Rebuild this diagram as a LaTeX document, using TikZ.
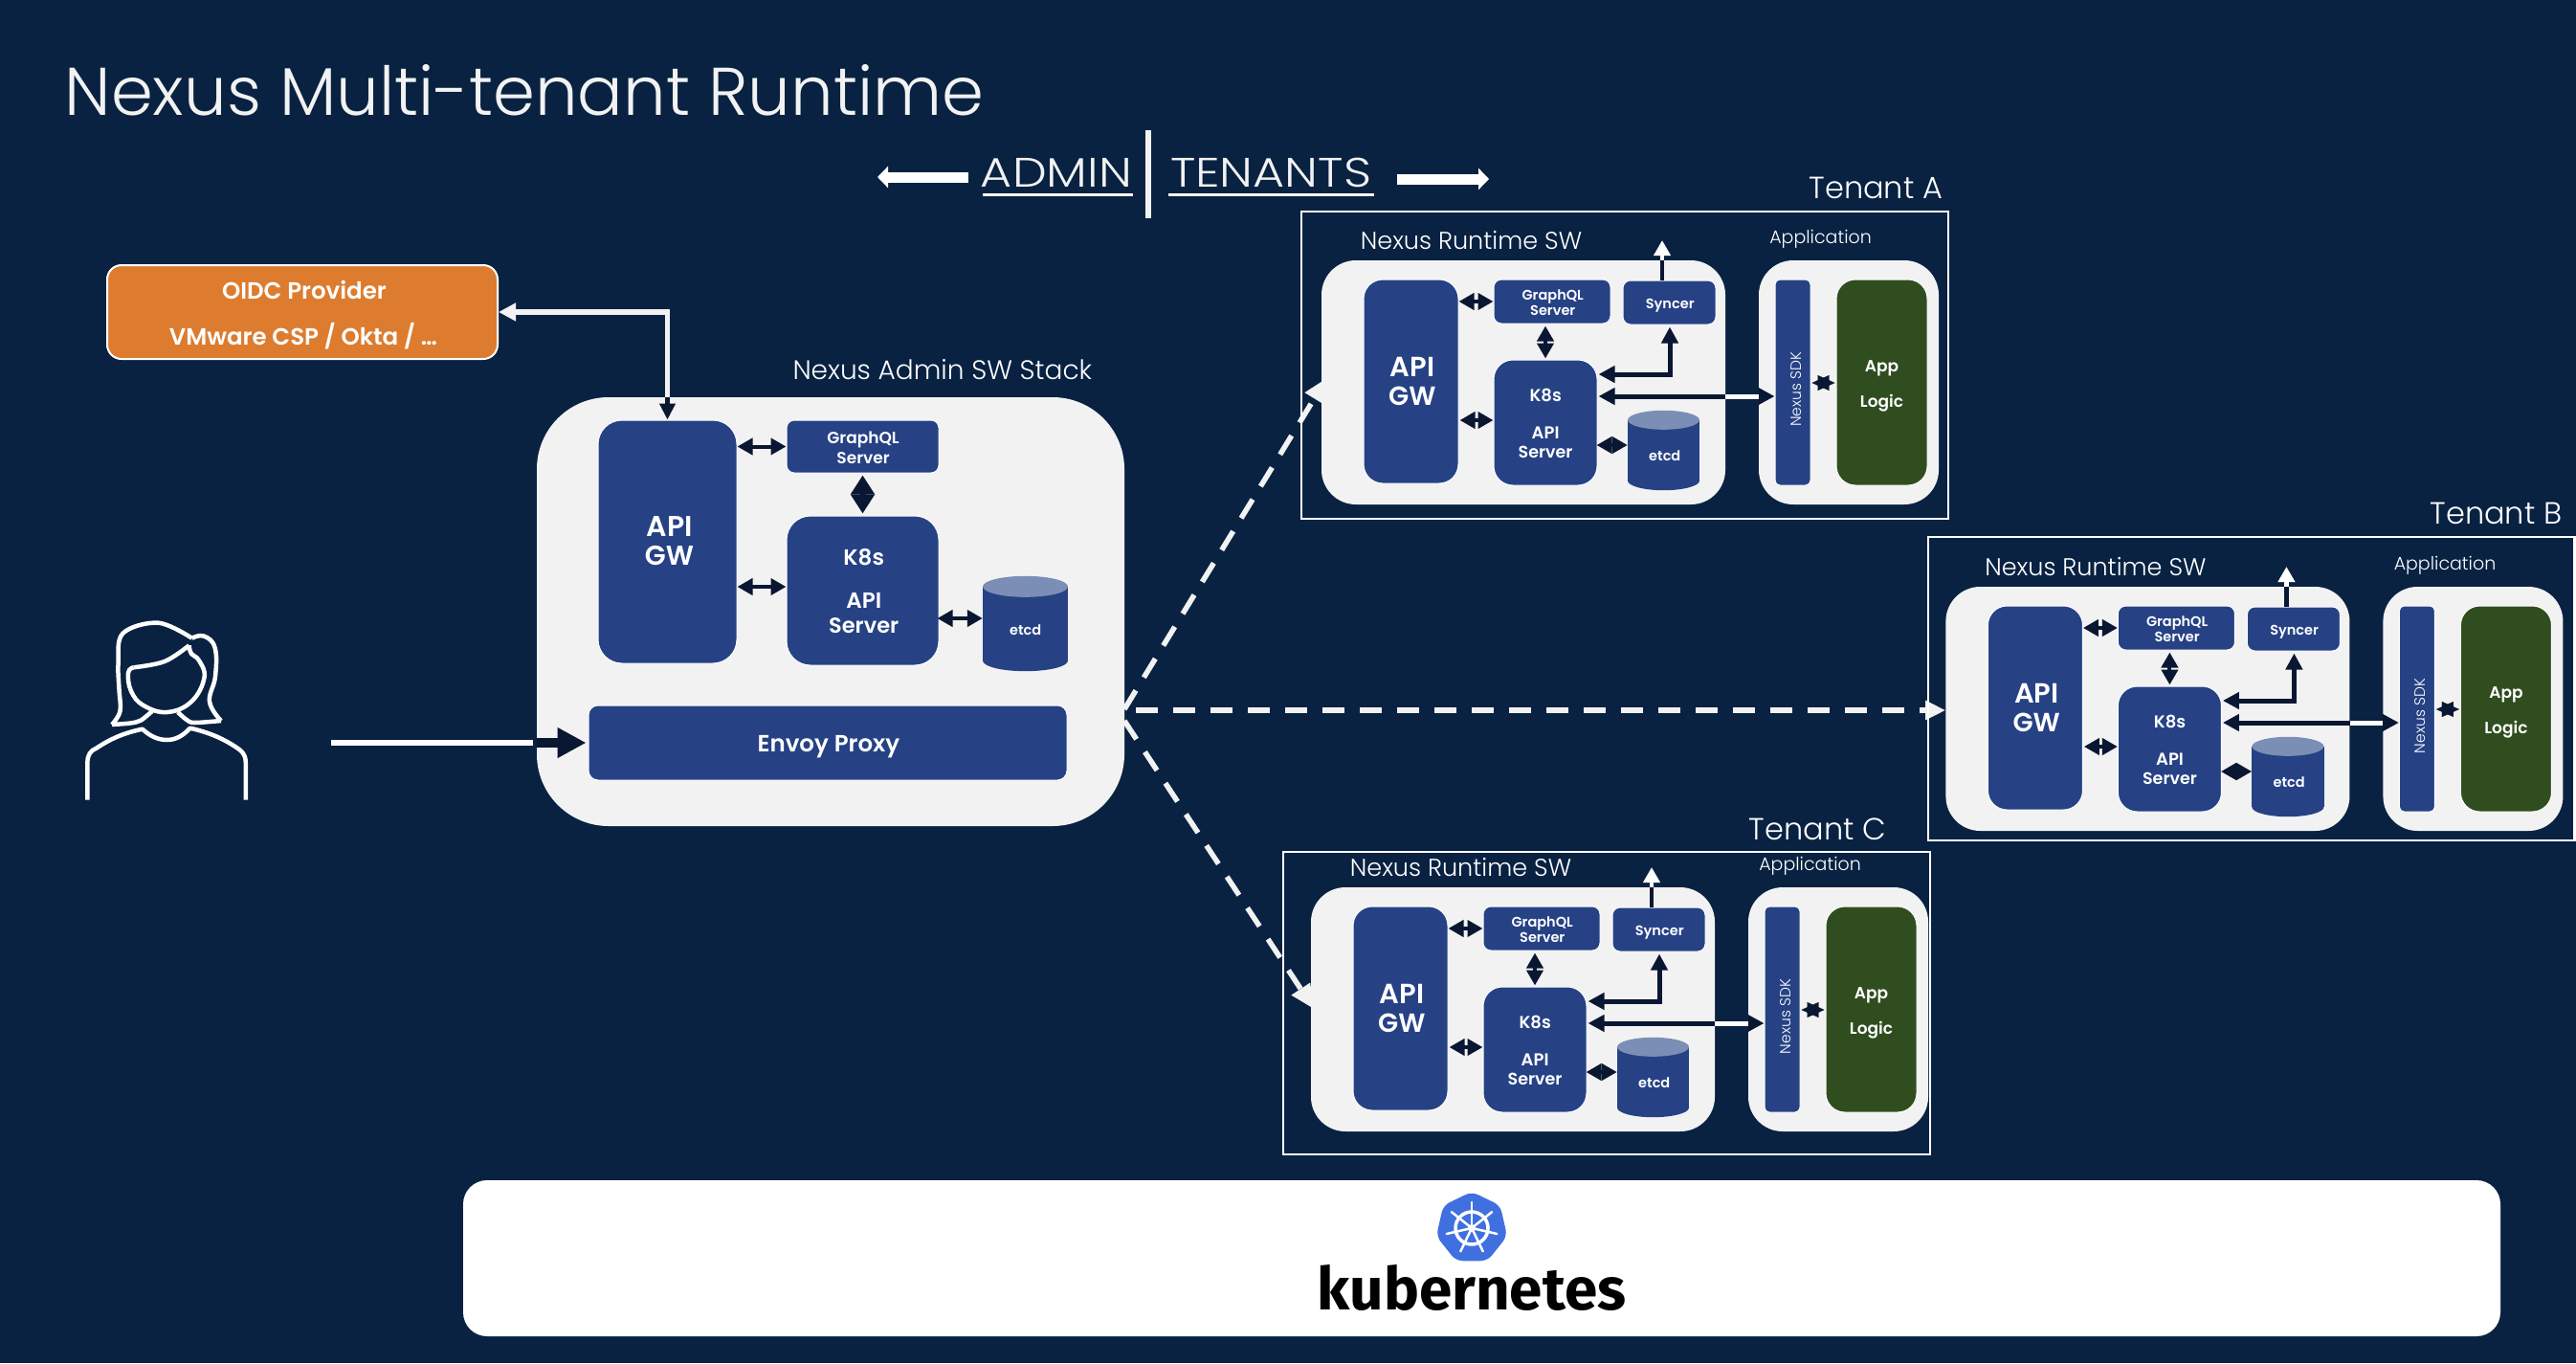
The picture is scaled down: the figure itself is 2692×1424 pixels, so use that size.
\documentclass[tikz,border=0pt]{standalone}
\usepackage{fontspec}
\setmainfont{Poppins}
\newfontfamily\fl{Poppins Light}
\newfontfamily\fm{Poppins SemiBold}
\newfontfamily\fr{Poppins Medium}
\newfontfamily\fb{Fira Sans Bold}
\usetikzlibrary{arrows.meta,calc}
\definecolor{bgc}{HTML}{092242}
\definecolor{boxc}{HTML}{264285}
\definecolor{grayc}{HTML}{F2F2F2}
\definecolor{darkc}{HTML}{0A1733}
\definecolor{orangec}{HTML}{DD7C2F}
\definecolor{greenc}{HTML}{304D20}
\definecolor{topc}{HTML}{7B8EB5}
\definecolor{logoc}{HTML}{4070E0}
\pgfdeclarelayer{bglayer}
\pgfdeclarelayer{connlayer}
\pgfsetlayers{bglayer,connlayer,main}
\newcommand{\ft}[1]{\fontsize{#1}{#1}\selectfont}
\tikzset{
  txt/.style={text=white,inner sep=0pt,anchor=base,align=center},
  solidbox/.style={draw=white,line width=1pt,fill=boxc,inner sep=0pt},
  panel/.style={fill=grayc,inner sep=0pt},
  tenantframe/.style={draw=white,line width=2.5pt},
  link/.style={draw=darkc,line width=4pt,arrows={Triangle[length=16pt,width=17pt]-Triangle[length=16pt,width=17pt]}},
  linkb/.style={draw=darkc,line width=5pt,arrows={Triangle[length=17pt,width=17pt]-Triangle[length=17pt,width=17pt]}},
  starhead/.style={draw=none,arrows={-Triangle[length=18pt,width=16pt]},fill=darkc,draw=darkc,line width=0.1pt},
  dashlink/.style={draw=grayc,line width=5.5pt,dash pattern=on 23pt off 16pt,arrows={-Triangle[length=25pt,width=22pt]}},
  person/.style={draw=white,line width=4.5pt,line join=round,line cap=butt},
}
% box: name, x1,y1,x2,y2, radius, style
\newcommand{\bx}[7]{\node[#7,rounded corners=#6pt,minimum width={(#4-#2)*1pt},minimum height={(#5-#3)*1pt}] (#1) at ({(#2+#4)/2},{(#3+#5)/2}) {};}
% text: name, x, baseline, size, font, text
\newcommand{\tx}[6]{\node[txt] (#1) at (#2,#3) {\ft{#4}#5 #6};}
% cylinder: name, x1,y1,x2,y2, ry
\newcommand{\cyl}[6]{%
  \node[inner sep=0pt,minimum width={(#4-#2)*1pt},minimum height={(#5-#3)*1pt}] (#1) at ({(#2+#4)/2},{(#3+#5)/2}) {};
  \fill[boxc] ([yshift=-#6pt]#1.north west) rectangle ([yshift=#6pt]#1.south east);
  \fill[boxc] ([yshift=#6pt]#1.south) ellipse [x radius={(#4-#2)/2*1pt},y radius=#6pt];
  \fill[topc] ([yshift=-#6pt]#1.north) ellipse [x radius={(#4-#2)/2*1pt},y radius=#6pt];
}
% tenant: name, dx, dy  (geometry given in Tenant A's frame)
\newcommand{\tenant}[3]{%
\begin{scope}[shift={(#2,#3)}]
  \bx{#1-rt}{1381}{272}{1803}{527}{36}{panel}
  \bx{#1-ap}{1838}{272}{2026}{527}{36}{panel}
  \bx{#1-api}{1425}{292}{1524}{505}{20}{solidbox}
  \bx{#1-gql}{1561}{292}{1683}{338}{8}{solidbox}
  \bx{#1-syn}{1696}{293}{1793}{339}{8}{solidbox}
  \bx{#1-k8s}{1561}{376}{1669}{507}{20}{solidbox}
  \bx{#1-sdk}{1855}{292}{1892}{507}{5}{solidbox}
  \bx{#1-app}{1919}{292}{2014}{507}{20}{solidbox,fill=greenc}
  \cyl{#1-etcd}{1701}{429}{1776}{512}{10}
  \tx{#1-t1}{1534}{260.7}{25.5}{\fl}{Nexus Runtime SW}
  \tx{#1-t2}{1900}{254}{19}{\fl}{Application}
  \tx{#1-t3}{1472.5}{393}{29}{\fm}{API}
  \tx{#1-t4}{1472.5}{423}{27.5}{\fm}{GW}
  \tx{#1-t5}{1621}{313}{14.5}{\fm}{GraphQL}
  \tx{#1-t6}{1621}{329}{14.5}{\fm}{Server}
  \tx{#1-t7}{1743.5}{322.7}{14.5}{\fm}{Syncer}
  \tx{#1-t8}{1613}{419}{18}{\fm}{K8s}
  \tx{#1-t9}{1613}{458}{18}{\fm}{API}
  \tx{#1-t10}{1613}{478}{17.5}{\fm}{Server}
  \tx{#1-t11}{1738}{481.7}{14.5}{\fm}{etcd}
  \tx{#1-t12}{1964.5}{388}{17}{\fm}{App}
  \tx{#1-t13}{1964.5}{425}{17}{\fm}{Logic}
  \node[txt,rotate=90] (#1-t14) at (1882,407) {\ft{15.5}\fl Nexus SDK};
  \coordinate (#1-bus) at (0,414);
  \coordinate (#1-corner) at (1745,391);
  \coordinate (#1-out) at (1737,251);
  \coordinate (#1-apibus) at (0,315);
  \coordinate (#1-k8sbus) at (0,439);
  \coordinate (#1-etcdbus) at (0,465);
  \coordinate (#1-sdkbus) at (0,400);
  \draw[link] (#1-api.east |- #1-apibus) -- (#1-gql.west |- #1-apibus);
  \draw[link] ([xshift=1pt]#1-api.east |- #1-k8sbus) -- (#1-k8s.west |- #1-k8sbus);
  \draw[link] ([xshift=-1pt]#1-k8s.east |- #1-etcdbus) -- (#1-etcd.west |- #1-etcdbus);
  \draw[link] ([yshift=-2pt]#1-k8s.north |- #1-gql.south) -- ([yshift=1pt]#1-k8s.north);
  \draw[linkb,rounded corners=0pt] ([xshift=1pt]#1-k8s.east |- #1-corner) -- (#1-corner) -- ([yshift=-2pt]#1-corner |- #1-syn.south);
  \draw[linkb] ([xshift=1pt]#1-k8s.east |- #1-bus) -- (#1-sdk.west |- #1-bus);
  \draw[draw=white,line width=5pt] (#1-rt.east |- #1-bus) -- (#1-ap.west |- #1-bus);
  \draw[draw=white,line width=4.5pt,arrows={-Triangle[length=16pt,width=17pt]}] (#1-out |- #1-syn.north) -- (#1-out);
  \draw[draw=darkc,line width=4.5pt] (#1-out |- #1-syn.north) -- (#1-out |- #1-rt.north);
  \draw[starhead] ([xshift=19pt]#1-sdk.east |- #1-sdkbus) -- ([xshift=1pt]#1-sdk.east |- #1-sdkbus);
  \draw[starhead] ([xshift=-19pt]#1-app.west |- #1-sdkbus) -- ([xshift=-1pt]#1-app.west |- #1-sdkbus);
\end{scope}}
\begin{document}
\begin{tikzpicture}[x=1pt,y=-1pt]
\useasboundingbox (0,0) rectangle (2692,1424);
\begin{pgfonlayer}{bglayer}
  \fill[bgc] (0,0) rectangle (2692,1424);
\end{pgfonlayer}

\node[txt,text=grayc] (title) at (548,120) {\ft{70.5}\fl Nexus Multi-tenant Runtime};

% Admin / tenants header
\node[txt,text=grayc] (admin) at (1104,195) {\scalebox{1.18}[1]{\ft{43}\fl ADMIN}};
\node[txt,text=grayc] (tenants) at (1328,195) {\scalebox{1.18}[1]{\ft{43}\fl TENANTS}};
\draw[white,line width=3pt] (1027,203) -- (1184,203);
\draw[white,line width=3pt] (1221,203) -- (1436,203);
\fill[grayc] (1197,136) rectangle (1203,228);
\coordinate (al) at (917,185);
\coordinate (ar) at (1556,187);
\draw[white,line width=11pt,arrows={-Triangle[length=11pt,width=22pt]}] (1012,185) -- (al);
\draw[white,line width=11pt,arrows={-Triangle[length=11pt,width=22pt]}] (1460,187) -- (ar);

% OIDC
\bx{oidc}{112}{277}{520}{375}{15}{draw=white,line width=2pt,fill=orangec,inner sep=0pt}
\tx{oidc1}{315}{312}{24.5}{\fm}{OIDC Provider}
\tx{oidc2}{314}{360}{24.5}{\fm}{VMware CSP / Okta / …}

% Admin stack
\bx{adm}{561}{415}{1175}{863}{75}{panel}
\bx{aapi}{625}{439}{770}{693}{25}{solidbox}
\bx{agql}{822}{439}{981}{494}{8}{solidbox}
\bx{ak8s}{822}{539}{981}{695}{25}{solidbox}
\bx{envoy}{615}{737}{1115}{815}{10}{solidbox}
\cyl{aetcd}{1027}{602}{1116}{701}{11}
\tx{s1}{981}{396.7}{28}{\fl}{Nexus Admin SW Stack}
\tx{s2}{696}{560.7}{30}{\fm}{API}
\tx{s3}{696}{590}{28.5}{\fm}{GW}
\tx{s4}{900}{463}{17}{\fm}{GraphQL}
\tx{s5}{900}{484}{17}{\fm}{Server}
\tx{s6}{900}{590.7}{23}{\fm}{K8s}
\tx{s7}{900}{635}{23}{\fm}{API}
\tx{s8}{900}{661.7}{22.5}{\fm}{Server}
\tx{s9}{1070}{663}{14.5}{\fm}{etcd}
\tx{s10}{863}{785}{24.5}{\fm}{Envoy Proxy}
\coordinate (amid) at (0,613);
\coordinate (aetc) at (0,646);
\draw[link] (aapi.east |- agql.west) -- (agql.west);
\draw[link] (aapi.east |- amid) -- (ak8s.west |- amid);
\draw[link] ([xshift=-2pt]ak8s.east |- aetc) -- (aetcd.west |- aetc);
\draw[draw=darkc,line width=6pt,arrows={Triangle[length=20pt,width=24pt]-Triangle[length=20pt,width=24pt]}] ([yshift=-2pt]ak8s.north |- agql.south) -- ([yshift=2pt]ak8s.north);
\draw[draw=grayc,line width=5.5pt,arrows={Triangle[length=18pt,width=18pt]-}] (oidc.east) -- (aapi.north |- oidc.east) -- (aapi.north);
\draw[draw=darkc,line width=4.5pt,arrows={-Triangle[length=17pt,width=16pt]}] (aapi.north |- adm.north) -- (aapi.north);
% User arrow
\coordinate (usr) at (346,776);
\draw[white,line width=6pt] (usr) -- ([xshift=-4pt]adm.west |- usr);
\draw[draw=darkc,line width=10pt,arrows={-Triangle[length=30pt,width=30pt]}] (adm.west |- envoy.west) -- ([xshift=-2pt]envoy.west);

% Tenants
\draw[tenantframe] (1360,221) rectangle (2036,542);
\draw[tenantframe] (2015,561) rectangle (2690.5,878);
\draw[tenantframe] (1341,890) rectangle (2017,1206);
\tenant{A}{0}{0}
\tenant{B}{652.4}{341}
\tenant{C}{-11}{655}
\tx{la}{1956}{207}{32}{\fl}{Tenant A}
\tx{lb}{2604}{547}{32}{\fl}{Tenant B}
\tx{lc}{1895}{877}{32}{\fl}{Tenant C}

% Dashed connectors (under the panels)
\begin{pgfonlayer}{connlayer}
  \coordinate (fanA) at (1175,741);
  \coordinate (fanB) at (1175,742);
  \coordinate (fanC) at (1175,753);
  \coordinate (inA) at (1386.5,395);
  \coordinate (inC) at (1373,1054);
  \draw[dashlink] (fanA) -- (inA);
  \draw[dashlink,dash phase=27pt,arrows={-Triangle[length=21pt,width=19pt]}] (fanB) -- (B-rt.west |- fanB);
  \draw[dashlink] (fanC) -- (inC);
\end{pgfonlayer}

% Person
\draw[person] plot[smooth,tension=0.6] coordinates {(117,757) (125.5,743) (124.5,720) (123.6,693) (128.4,661.7) (165.4,650.7) (200.6,666.7)};
\draw[person] plot[smooth,tension=0.7] coordinates {(200.6,666.7) (213,664.5) (224.6,676.7) (225,706.7) (219,733) (231,753)};
\draw[person] plot[smooth,tension=0.5] coordinates {(117,757) (136,755.5) (147,752.7) (159,743)};
\draw[person] plot[smooth,tension=0.5] coordinates {(231,753) (203,755) (195,752) (185.8,744)};
\draw[person] plot[smooth,tension=0.6] coordinates {(197.6,674.3) (172,691) (139.5,697.3)};
\draw[person] plot[smooth,tension=0.7] coordinates {(139.5,697.3) (134,703) (137,722) (150,737) (174.7,744) (200,733) (213.5,708) (208,690) (200,683) (197.6,674.3)};
\draw[person] (91.4,835.7) -- (91.4,796.7) .. controls (91.4,788) and (95,784) .. (100.7,781.7) .. controls (118,770) and (133,765) .. (148.8,761.7) .. controls (158,770) and (166,773) .. (174.7,773) .. controls (183,773) and (191,769) .. (198.7,760.7) .. controls (218,765) and (235,772) .. (250.5,783.3) .. controls (255,787) and (256.8,791) .. (256.8,796.7) -- (256.8,835.7);

% Kubernetes band
\bx{kband}{484}{1233}{2613}{1396}{25}{fill=white,inner sep=0pt}
\begin{scope}[shift={(1538,1283)}]
  \fill[logoc,rounded corners=7pt] (-90:38) -- (-38.57:38) -- (12.86:38) -- (64.29:38) -- (115.71:38) -- (167.14:38) -- (218.57:38) -- cycle;
  \draw[white,line width=3.5pt] (0,0) circle[radius=17pt];
  \foreach \a in {-90,-38.57,12.86,64.29,115.71,167.14,218.57}{
    \draw[white,line width=2.5pt,line cap=round] (\a:0) -- (\a:27);
  }
  \fill[white] (0,0) circle[radius=4pt];
\end{scope}
\node[txt,text=black] (k8sname) at (1538,1368) {\ft{62}\fb kubernetes};
\end{tikzpicture}
\end{document}
